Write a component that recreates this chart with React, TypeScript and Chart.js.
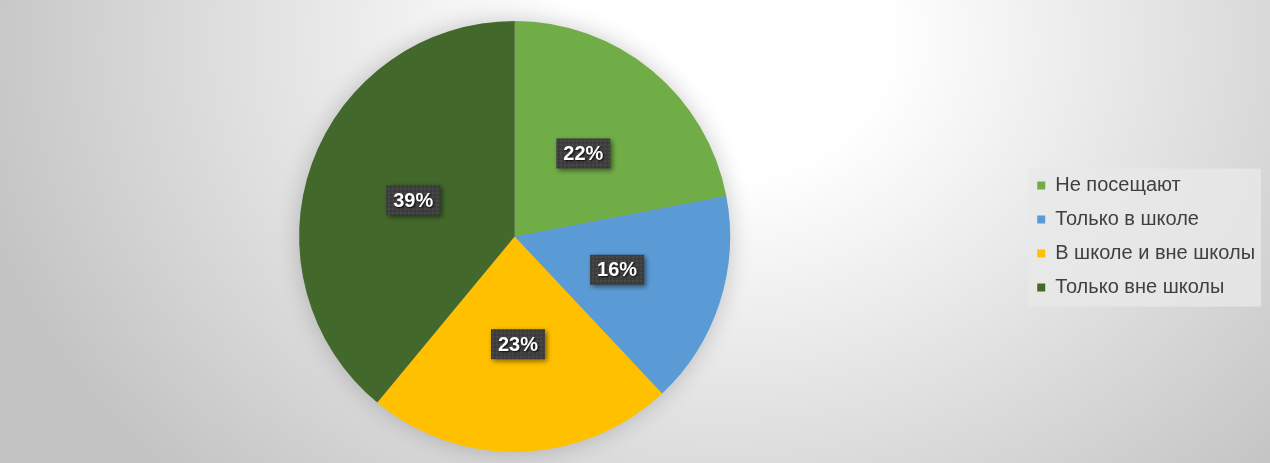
import React, { useEffect, useRef } from "react";
import { Chart, registerables } from "chart.js";

Chart.register(...registerables);

const categories = ["Не посещают", "Только в школе", "В школе и вне школы", "Только вне школы"];
const values = [22, 16, 23, 39];
const colors = ["#70AD47", "#5B9BD5", "#FFC000", "#43682B"];

const FONT = "'Liberation Sans', Arial, sans-serif";

function makePattern(ctx: CanvasRenderingContext2D) {
  const c = document.createElement("canvas");
  c.width = 4;
  c.height = 4;
  const p = c.getContext("2d")!;
  p.fillStyle = "#3f3f3f";
  p.fillRect(0, 0, 4, 4);
  p.fillStyle = "#474747";
  p.fillRect(0, 0, 2, 2);
  p.fillStyle = "#3a3a3a";
  p.fillRect(2, 2, 2, 2);
  return ctx.createPattern(c, "repeat");
}

const pieShadow = {
  id: "pieShadow",
  beforeDatasetsDraw(chart: any) {
    const meta = chart.getDatasetMeta(0);
    const arc = meta.data[0];
    if (!arc) return;
    const { x, y, outerRadius } = arc.getProps(["x", "y", "outerRadius"], true);
    const ctx = chart.ctx;
    ctx.save();
    ctx.shadowColor = "rgba(0,0,0,0.22)";
    ctx.shadowBlur = 24;
    ctx.shadowOffsetX = 0;
    ctx.shadowOffsetY = 0;
    ctx.fillStyle = "#999";
    ctx.beginPath();
    ctx.arc(x, y, outerRadius - 1, 0, Math.PI * 2);
    ctx.fill();
    ctx.restore();
  },
};

const legendBox = {
  id: "legendBox",
  beforeDraw(chart: any) {
    const lg = chart.legend;
    if (!lg || !lg.legendHitBoxes || !lg.legendHitBoxes.length) return;
    const hb = lg.legendHitBoxes;
    const first = hb[0];
    const last = hb[hb.length - 1];
    let right = 0;
    hb.forEach((h: any) => (right = Math.max(right, h.left + h.width)));
    const ctx = chart.ctx;
    ctx.save();
    ctx.fillStyle = "rgba(232,232,232,0.8)";
    const left = first.left - 9;
    const top = first.top + first.height / 2 - 17;
    const bottom = last.top + last.height / 2 + 19;
    ctx.fillRect(left, top, right + 6 - left, bottom - top);
    ctx.restore();
  },
};

const pctLabels = {
  id: "pctLabels",
  afterDatasetsDraw(chart: any) {
    const ctx = chart.ctx as CanvasRenderingContext2D;
    const meta = chart.getDatasetMeta(0);
    const ds = chart.data.datasets[0].data as number[];
    const total = ds.reduce((a, b) => a + b, 0);
    const pattern = makePattern(ctx);
    meta.data.forEach((arc: any, i: number) => {
      const { x, y, startAngle, endAngle, outerRadius } = arc.getProps(
        ["x", "y", "startAngle", "endAngle", "outerRadius"],
        true
      );
      const mid = (startAngle + endAngle) / 2;
      const px = x + Math.cos(mid) * outerRadius * 0.5;
      const py = y + Math.sin(mid) * outerRadius * 0.5;
      const text = Math.round((ds[i] / total) * 100) + "%";
      ctx.save();
      ctx.font = `bold 20px ${FONT}`;
      const tw = ctx.measureText(text).width;
      const bw = tw + 14;
      const bh = 30;
      ctx.shadowColor = "rgba(0,0,0,0.5)";
      ctx.shadowBlur = 5;
      ctx.shadowOffsetX = 2;
      ctx.shadowOffsetY = 2;
      ctx.fillStyle = pattern || "#404040";
      ctx.fillRect(px - bw / 2, py - bh / 2, bw, bh);
      ctx.shadowColor = "rgba(0,0,0,0.85)";
      ctx.shadowBlur = 2;
      ctx.shadowOffsetX = 1;
      ctx.shadowOffsetY = 1;
      ctx.fillStyle = "#ffffff";
      ctx.textAlign = "center";
      ctx.textBaseline = "middle";
      ctx.fillText(text, px, py + 1);
      ctx.restore();
    });
  },
};

export default function App() {
  const ref = useRef<HTMLCanvasElement | null>(null);
  useEffect(() => {
    if (!ref.current) return;
    const chart = new Chart(ref.current, {
      type: "pie",
      data: {
        labels: categories,
        datasets: [
          {
            data: values,
            backgroundColor: colors,
            borderWidth: 0,
          },
        ],
      },
      options: {
        animation: false,
        responsive: true,
        maintainAspectRatio: false,
        layout: { padding: { top: 21, bottom: 11, left: 6, right: 5 } },
        plugins: {
          tooltip: { enabled: false },
          legend: {
            position: "right",
            align: "center",
            labels: {
              boxWidth: 8,
              boxHeight: 8,
              padding: 14,
              color: "#404040",
              font: { family: FONT, size: 20 },
            },
          },
        },
      },
      plugins: [legendBox, pieShadow, pctLabels],
    });
    return () => chart.destroy();
  }, []);
  return (
    <div
      style={{
        position: "absolute",
        left: 0,
        top: 0,
        width: 1270,
        height: 463,
        background:
          "radial-gradient(ellipse 760px 620px at 720px 40px, #ffffff 0%, #ffffff 22%, #e6e6e6 55%, #c4c4c4 100%)",
      }}
    >
      <canvas ref={ref} />
    </div>
  );
}
